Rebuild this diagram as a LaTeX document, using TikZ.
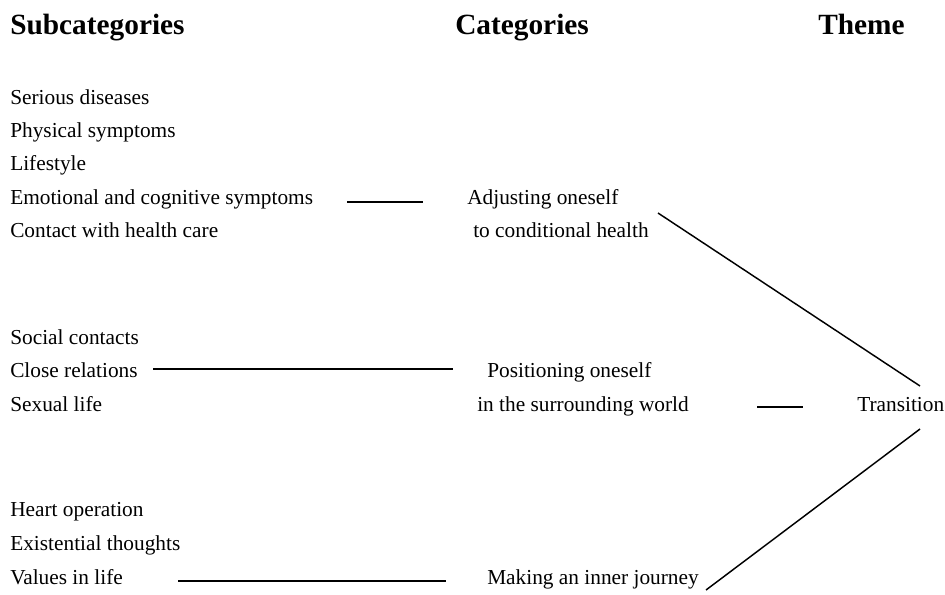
\documentclass[tikz,border=0pt]{standalone}
\usepackage{fontspec}
\setmainfont{Liberation Serif}
\begin{document}
\begin{tikzpicture}[x=0.75pt,y=-0.75pt,
  hdr/.style={anchor=base west,inner sep=0pt,font=\fontsize{22}{26}\selectfont\bfseries},
  txt/.style={anchor=base west,inner sep=0pt,font=\fontsize{16}{19}\selectfont},
  conn/.style={line width=1.1pt,black}]
\useasboundingbox (0,0) rectangle (945,594);
% headers
\node[hdr] (hsub) at (10,34) {Subcategories};
\node[hdr] (hcat) at (455,34) {Categories};
\node[hdr] (hthe) at (818,34) {Theme};
% subcategories group 1
\node[txt] (s1) at (10,104) {Serious diseases};
\node[txt] (s2) at (10,137) {Physical symptoms};
\node[txt] (s3) at (10,170) {Lifestyle};
\node[txt] (s4) at (10,204) {Emotional and cognitive symptoms};
\node[txt] (s5) at (10,237) {Contact with health care};
% group 2
\node[txt] (s6) at (10,344) {Social contacts};
\node[txt] (s7) at (10,377) {Close relations};
\node[txt] (s8) at (10,411) {Sexual life};
% group 3
\node[txt] (s9) at (10,516) {Heart operation};
\node[txt] (s10) at (10,550) {Existential thoughts};
\node[txt] (s11) at (10,584) {Values in life};
% categories
\node[txt] (c1a) at (467,204) {Adjusting oneself};
\node[txt] (c1b) at (473,237) {to conditional health};
\node[txt] (c2a) at (487,377) {Positioning oneself};
\node[txt] (c2b) at (477,411) {in the surrounding world};
\node[txt] (c3) at (487,584) {Making an inner journey};
% theme
\node[txt] (t) at (857,411) {Transition};
% connector end points
\coordinate (a1) at (347,202);
\coordinate (a2) at (423,202);
\coordinate (b1) at (153,369);
\coordinate (b2) at (453,369);
\coordinate (d1) at (178,581);
\coordinate (d2) at (446,581);
\coordinate (e1) at (757,407);
\coordinate (e2) at (803,407);
\coordinate (f1) at (658,213);
\coordinate (f2) at (920,386);
\coordinate (g1) at (706,590);
\coordinate (g2) at (920,429);
\draw[conn] (a1) -- (a2);
\draw[conn] (b1) -- (b2);
\draw[conn] (d1) -- (d2);
\draw[conn] (e1) -- (e2);
\draw[conn] (f1) -- (f2);
\draw[conn] (g1) -- (g2);
\end{tikzpicture}
\end{document}
